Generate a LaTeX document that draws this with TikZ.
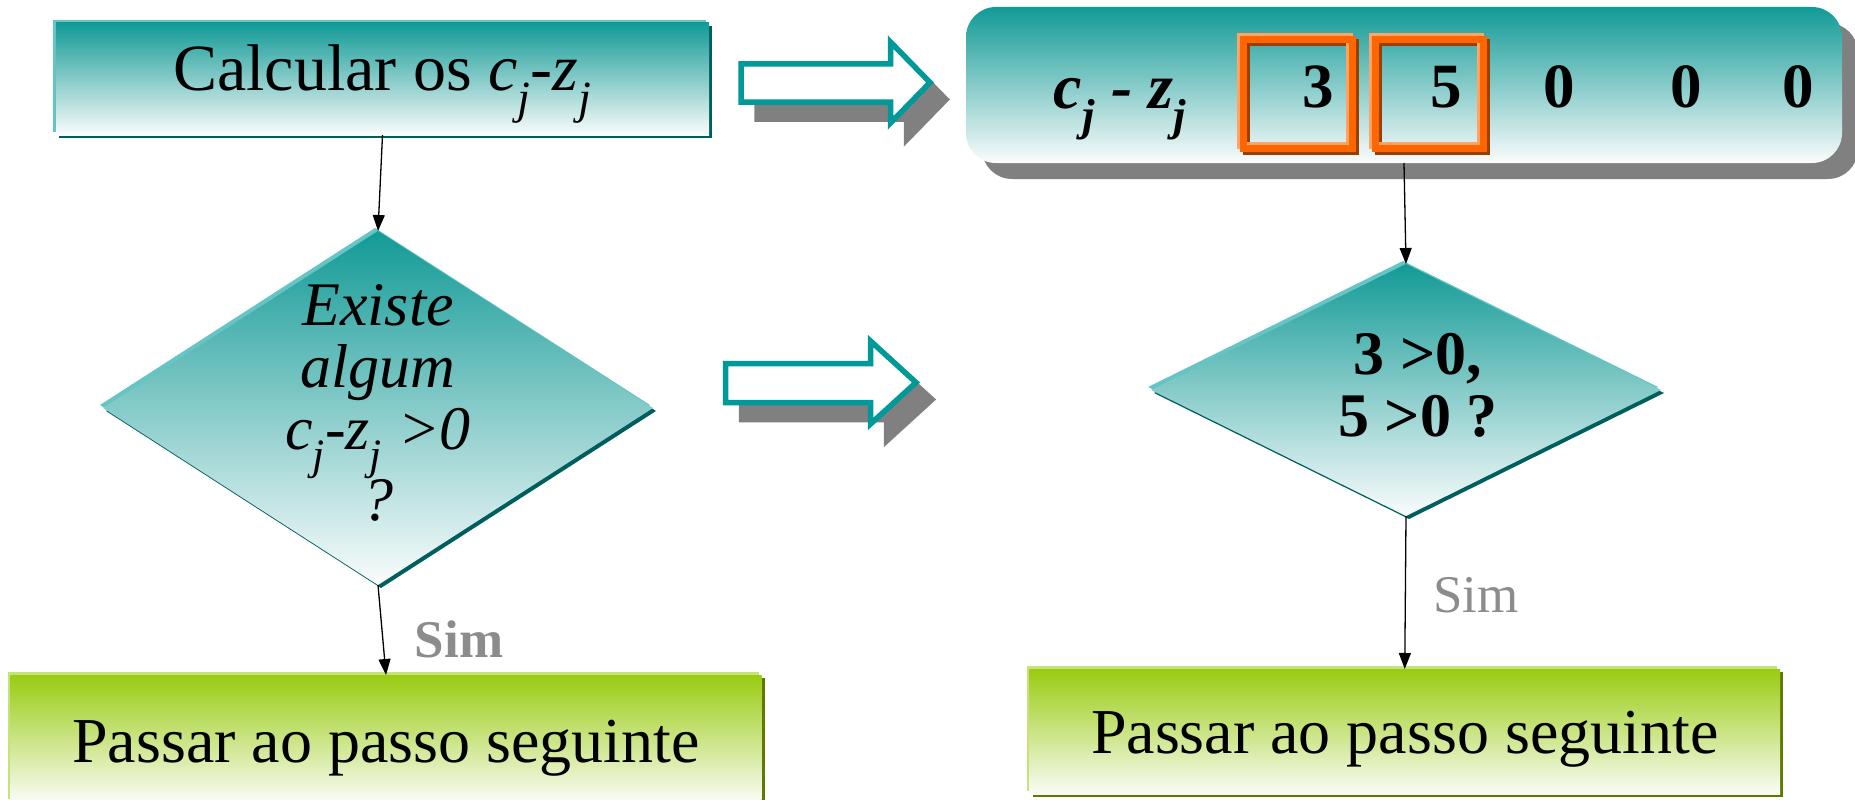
\documentclass[tikz,border=0pt]{standalone}
\usepackage{fontspec}
\setmainfont{Liberation Serif}
\usetikzlibrary{shapes.geometric,arrows.meta}
\definecolor{tealT}{HTML}{129A96}
\definecolor{tealM}{HTML}{86BEBB}
\definecolor{tealB}{HTML}{FAFCFC}
\definecolor{tealL}{HTML}{66C4C4}
\definecolor{tealD}{HTML}{005E5E}
\definecolor{greenT}{HTML}{99CC11}
\definecolor{greenM}{HTML}{C4E08A}
\definecolor{greenB}{HTML}{FAFCF6}
\definecolor{greenL}{HTML}{C6E27A}
\definecolor{greenD}{HTML}{5F7A00}
\definecolor{arrowteal}{HTML}{009999}
\definecolor{shadowgray}{HTML}{808080}
\definecolor{orangeM}{HTML}{FF6600}
\definecolor{orangeL}{HTML}{FFA366}
\definecolor{orangeD}{HTML}{994000}
\definecolor{simgray}{HTML}{8C8C8C}
\newcommand\fsz[2]{\fontsize{#1}{#2}\selectfont}
\begin{document}
\begin{tikzpicture}[x=1pt,y=-1pt,
  every node/.style={inner sep=0pt, outer sep=0pt},
  bevel/.style 2 args={preaction={fill=#2, transform canvas={xshift=3pt,yshift=-3pt}},
                       preaction={fill=#1, transform canvas={xshift=-3pt,yshift=3pt}}},
  tealbox/.style={rectangle, top color=tealT, middle color=tealM, bottom color=tealB, bevel={tealL}{tealD}},
  greenbox/.style={rectangle, top color=greenT, middle color=greenM, bottom color=greenB, bevel={greenL}{greenD}},
  tealdiamond/.style={diamond, top color=tealT, middle color=tealM, bottom color=tealB, bevel={tealL}{tealD}},
  roundbox/.style={rectangle, rounded corners=30pt, top color=tealT, middle color=tealM, bottom color=tealB,
                   preaction={fill=shadowgray, transform canvas={xshift=16pt,yshift=-16pt}}},
  orangebox/.style={rectangle, draw=orangeM, line width=7pt,
                    preaction={draw=orangeD, line width=7pt, transform canvas={xshift=3pt,yshift=-3pt}},
                    preaction={draw=orangeL, line width=7pt, transform canvas={xshift=-3pt,yshift=3pt}}},
  conn/.style={line width=1.3pt, -{Triangle[length=16pt,width=12pt]}},
  hollow/.style={draw=arrowteal, fill=white, line width=5.5pt},
  hollowshadow/.style={draw=shadowgray, fill=shadowgray, line width=5.5pt},
  simlabel/.style={text=simgray, anchor=base, font=\fsz{53}{60}}
]
\useasboundingbox (0,0) rectangle (1855,800);
\clip (0,0) rectangle (1855,800);

% ---- left column ----
\node[tealbox, minimum width=653pt, minimum height=112pt, font=\fsz{66}{72},
      text height=44pt, text depth=20pt] (box1) at (382.5,79)
  {Calcular os \textit{c}\textsubscript{\textit{j}}-\textit{z}\textsubscript{\textit{j}}};

\node[tealdiamond, minimum width=550pt, minimum height=354pt] (d1) at (378,408) {};
\node[font=\fsz{62}{62}\itshape, align=center] (d1t) at (378,403)
  {Existe\\algum\\c\textsubscript{j}-z\textsubscript{j} >0\\?};

\node[greenbox, minimum width=751pt, minimum height=127pt, font=\fsz{64}{70},
      text height=60pt, text depth=13pt] (g1) at (386,738.5) {Passar ao passo seguinte};

\node[simlabel, font=\fsz{53}{60}\bfseries] (s1) at (459,657) {Sim};

\draw[conn] (box1.south) -- (d1.north);
\draw[conn] (d1.south) -- (g1.north);

% ---- hollow arrows ----
\filldraw[hollowshadow, shift={(16,17)}] (741,64) -- (890.5,64) -- (890.5,42) -- (930,82.5)
  -- (890.5,123) -- (890.5,102) -- (741,102) -- cycle;
\filldraw[hollow] (741,64) -- (890.5,64) -- (890.5,42) -- (930,82.5)
  -- (890.5,123) -- (890.5,102) -- (741,102) -- cycle;

\filldraw[hollowshadow, shift={(16,17)}] (725.5,363.5) -- (870.5,363.5) -- (870.5,341) -- (916,382.5)
  -- (870.5,424) -- (870.5,402.5) -- (725.5,402.5) -- cycle;
\filldraw[hollow] (725.5,363.5) -- (870.5,363.5) -- (870.5,341) -- (916,382.5)
  -- (870.5,424) -- (870.5,402.5) -- (725.5,402.5) -- cycle;

% ---- right column ----
\node[roundbox, minimum width=876pt, minimum height=156pt] (rb) at (1404,85) {};
\node[orangebox, minimum width=109pt, minimum height=109pt] (o1) at (1298,94) {};
\node[orangebox, minimum width=108pt, minimum height=109pt] (o2) at (1429.5,94) {};
\node[font=\fsz{64}{66}\bfseries\itshape, anchor=base] (lab) at (1120,108)
  {c\textsubscript{j} - z\textsubscript{j}};
\node[font=\fsz{63}{66}\bfseries, anchor=base] (v1) at (1318,107) {3};
\node[font=\fsz{63}{66}\bfseries, anchor=base] (v2) at (1446,107) {5};
\node[font=\fsz{63}{66}\bfseries, anchor=base] (v3) at (1559.5,107) {0};
\node[font=\fsz{63}{66}\bfseries, anchor=base] (v4) at (1686.5,107) {0};
\node[font=\fsz{63}{66}\bfseries, anchor=base] (v5) at (1798,107) {0};

\node[tealdiamond, minimum width=510pt, minimum height=252pt] (d2) at (1406,390) {};
\node[font=\fsz{62}{62}\bfseries, align=center] (d2t) at (1418,385) {3 >0,\\5 >0 ?};

\node[greenbox, minimum width=750.5pt, minimum height=125pt, font=\fsz{64}{70},
      text height=56pt, text depth=13pt] (g2) at (1404.75,731.5) {Passar ao passo seguinte};

\node[simlabel] (s2) at (1476,612) {Sim};

\draw[conn] (rb.south) -- (d2.north);
\draw[conn] (d2.south) -- (g2.north);
\end{tikzpicture}
\end{document}
